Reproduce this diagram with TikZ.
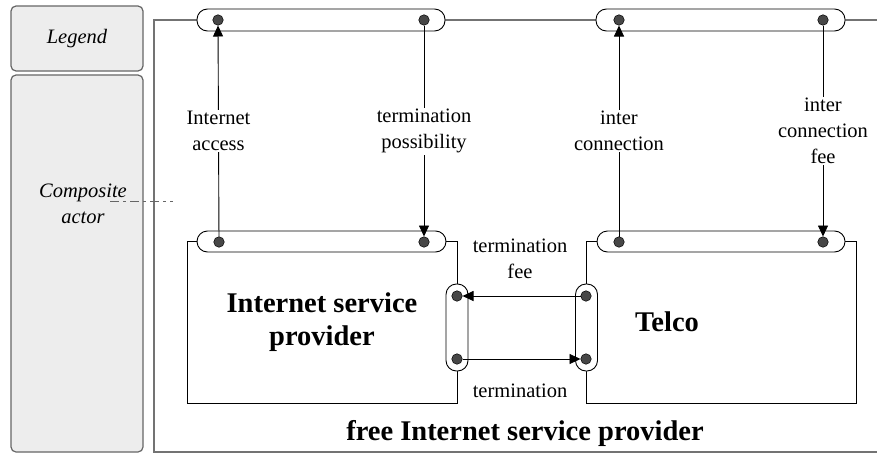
\documentclass[tikz,border=0pt]{standalone}
\usepackage{fontspec}
\setmainfont{Liberation Serif}
\usetikzlibrary{arrows.meta}
\begin{document}
\begin{tikzpicture}[x=1pt,y=-1pt,
  legendbox/.style={draw=black!60, fill=black!7, rounded corners=5pt, line width=1.2pt, inner sep=0pt},
  outerbox/.style={draw=black!55, line width=1.4pt, inner sep=0pt},
  actor/.style={draw=black, line width=0.9pt, inner sep=0pt},
  port/.style={draw=black, fill=white, rounded corners=10.5pt, line width=0.9pt, inner sep=0pt},
  dot/.style={circle, draw=black, fill=black!72, line width=0.5pt, minimum width=10.5pt, minimum height=10.5pt, inner sep=0pt},
  flow/.style={draw=black, line width=0.9pt, -{Triangle[length=11pt,width=10pt]}},
  lbl/.style={fill=white, align=center, inner sep=1.5pt, font=\fontsize{20.5}{26}\selectfont},
  txt/.style={align=center, inner sep=0pt, font=\fontsize{20.5}{26}\selectfont},
  bigtxt/.style={align=center, inner sep=0pt, font=\fontsize{28.5}{33}\selectfont\bfseries},
  dashdot/.style={draw=black!60, line width=1pt, dash pattern=on 9pt off 4pt on 3pt off 4pt}
]
\useasboundingbox (0,0) rectangle (877,455);

% legend column
\node[legendbox, minimum width=132pt, minimum height=65pt] (legend) at (77,38.5) {};
\node[txt, font=\fontsize{20.5}{26}\selectfont\itshape] (legendtxt) at (77,38.5) {Legend};
\node[legendbox, minimum width=132pt, minimum height=377pt] (comp) at (77,263.5) {};
\node[txt, font=\fontsize{20.5}{26}\selectfont\itshape] (comptxt) at (83,203.5) {Composite\\actor};

% outer composite actor
\node[outerbox, minimum width=731pt, minimum height=432pt] (fisp) at (519.5,236) {};
\node[bigtxt] (fisptxt) at (525,433) {free Internet service provider};

% dash-dot pointer
\coordinate (ca1) at (110,201);
\coordinate (ca2) at (173,201);
\draw[dashdot] (ca1) -- (ca2);

% actors
\node[actor, minimum width=270pt, minimum height=162pt] (isp) at (322,322) {};
\node[bigtxt] (isptxt) at (322,322) {Internet service\\provider};
\node[actor, minimum width=270pt, minimum height=162pt] (telco) at (721,322) {};
\node[bigtxt] (telcotxt) at (667,322) {Telco};

% value ports (top)
\node[port, minimum width=248pt, minimum height=22pt] (tp1) at (321,20) {};
\node[port, minimum width=249pt, minimum height=22pt] (tp2) at (720.5,20) {};
\node[dot] (t1) at (218,20) {};
\node[dot] (t2) at (424,20) {};
\node[dot] (t3) at (619,20) {};
\node[dot] (t4) at (823,20) {};

% actor ports
\node[port, minimum width=249pt, minimum height=21pt] (ip) at (321.5,241.5) {};
\node[port, minimum width=248pt, minimum height=21pt] (cp) at (721,241.5) {};
\node[dot] (i1) at (219,242) {};
\node[dot] (i2) at (424,242) {};
\node[dot] (c1) at (619,242) {};
\node[dot] (c2) at (823,242) {};

% side ports
\node[port, minimum width=22pt, minimum height=87pt] (ivp) at (457,327.5) {};
\node[port, minimum width=22pt, minimum height=87pt] (cvp) at (586.5,327.5) {};
\node[dot] (iv1) at (457,296) {};
\node[dot] (iv2) at (457,359) {};
\node[dot] (cv1) at (586,296) {};
\node[dot] (cv2) at (586,359) {};

% value transfers
\draw[flow] (i1) -- node[lbl] (la) {Internet\\access} (t1);
\draw[flow] (t2) -- node[lbl] (lb) {termination\\possibility} (i2);
\draw[flow] (c1) -- node[lbl] (lc) {inter\\connection} (t3);
\draw[flow] (t4) -- node[lbl] (ld) {inter\\connection\\fee} (c2);
\draw[flow] (cv1) -- (iv1);
\draw[flow] (iv2) -- (cv2);
\node[txt] (le) at (520,259) {termination\\fee};
\node[txt] (lf) at (520,391) {termination};
\end{tikzpicture}
\end{document}
